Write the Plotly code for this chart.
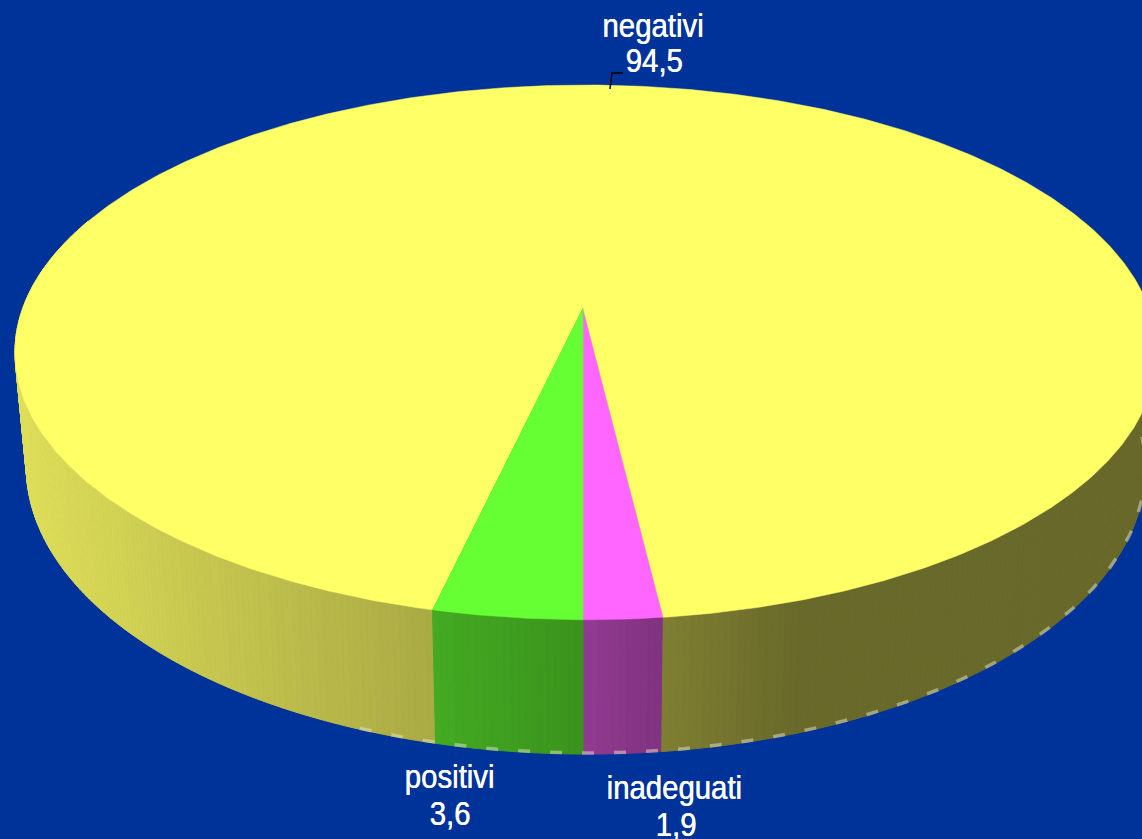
import numpy as np
import plotly.graph_objects as go

categories = ["inadeguati", "negativi", "positivi"]
values = [1.9, 94.5, 3.6]
value_labels = ["1,9", "94,5", "3,6"]
colors = ["#FF66FF", "#FFFF66", "#66FF33"]

# projection of the tilted disc on to the page
CX, CY, R, A, K, M, DEPTH, NARROW = 583, 308, 563, 260, 0.166, 0.005, 112, 0.98
# side shading: horizontal position -> brightness
SHADE_X = [0, 30, 200, 430, 583, 663, 800, 1200]
SHADE_F = [0.88, 0.87, 0.78, 0.67, 0.575, 0.50, 0.41, 0.41]


def project(theta, bottom=False):
    u, v = np.sin(theta), -np.cos(theta)  # theta = 0 at the front, growing to the right
    d = 1 + K * v - M * u
    y = CY - A * v / d
    s = 1.0
    if bottom:
        y = y + DEPTH / d
        s = NARROW
    return CX + s * R * u / d, y


def shade(hex_color, x):
    f = np.interp(x, SHADE_X, SHADE_F)
    r, g, b = (int(hex_color[i:i + 2], 16) for i in (1, 3, 5))
    return f"rgb({r * f:.0f},{g * f:.0f},{b * f:.0f})"


fig = go.Figure()

total = sum(values)
spans = []
# start at the front, going towards the right: inadeguati, negativi, positivi
start = 0.0
for cat, val, col in zip(categories, values, colors):
    end = start + 2 * np.pi * val / total
    spans.append((cat, start, end, col))
    start = end

# side wall
STEP = np.radians(0.6)
for cat, a0, a1, col in spans:
    n = max(2, int((a1 - a0) / STEP))
    edges = np.linspace(a0, a1, n + 1)
    for t0, t1 in zip(edges[:-1], edges[1:]):
        mid = (t0 + t1) / 2
        if np.cos(mid) < -0.35:
            continue  # hidden at the back
        ts = np.linspace(t0, t1, 3)
        xt, yt = project(ts)
        xb, yb = project(ts[::-1], True)
        xs = np.r_[xt, xb, xt[0]]
        ys = np.r_[yt, yb, yt[0]]
        c = shade(col, xs.mean())
        fig.add_trace(go.Scatter(x=xs, y=ys, mode="lines", fill="toself", fillcolor=c,
                                 line=dict(color=c, width=1), hoverinfo="skip", showlegend=False))

# pale dashed rim along the lower edge
tr = np.radians(np.linspace(-20, 95, 300))
xr, yr = project(tr, True)
fig.add_trace(go.Scatter(x=xr, y=yr - 1, mode="lines",
                         line=dict(color="rgba(225,225,205,0.5)", width=3.5, dash="12px,20px"),
                         hoverinfo="skip", showlegend=False))

# top face
for cat, a0, a1, col in spans:
    ts = np.linspace(a0, a1, max(3, int((a1 - a0) / np.radians(0.5))))
    xt, yt = project(ts)
    xs = np.r_[CX, xt, CX]
    ys = np.r_[CY, yt, CY]
    fig.add_trace(go.Scatter(x=xs, y=ys, mode="lines", fill="toself", fillcolor=col,
                             line=dict(color=col, width=0.5), hoverinfo="skip", showlegend=False))

# leader line of the "negativi" label
fig.add_trace(go.Scatter(x=[610, 612, 623], y=[89, 73, 73], mode="lines",
                         line=dict(color="black", width=1.5), hoverinfo="skip", showlegend=False))

# label name centre, label value centre
name_pos = {"negativi": (653, 25), "positivi": (449, 776), "inadeguati": (674, 787)}
value_pos = {"negativi": (654, 60), "positivi": (450, 813), "inadeguati": (676, 824)}
FONT = dict(family="Liberation Sans", size=33, color="white", shadow="0.5px 0 0 white")
annotations = []
for cat, lab in zip(categories, value_labels):
    for txt, (x, y) in ((cat, name_pos[cat]), (lab, value_pos[cat])):
        annotations.append(dict(x=x, y=y, xref="x", yref="y", showarrow=False, text=txt,
                                yanchor="middle", xanchor="center", font=FONT))

fig.update_layout(
    width=1142, height=839, margin=dict(l=0, r=0, t=0, b=0),
    paper_bgcolor="#003399", plot_bgcolor="#003399", showlegend=False,
    xaxis=dict(range=[0, 1142], visible=False, fixedrange=True),
    yaxis=dict(range=[839, 0], visible=False, fixedrange=True),
    annotations=annotations,
)
# page without its default margin; labels condensed like the reference's narrow face
post = """
document.body.style.margin='0';
document.body.style.background='#003399';
document.documentElement.style.overflow='hidden';
document.querySelectorAll('text.annotation-text').forEach(function(t){
  var b=t.getBBox(), c=b.x+b.width/2;
  t.setAttribute('transform','translate('+c+' 0) scale(0.89 1) translate('+(-c)+' 0)');
});
"""
fig.write_html("out.html", config={"displayModeBar": False}, post_script=post)
